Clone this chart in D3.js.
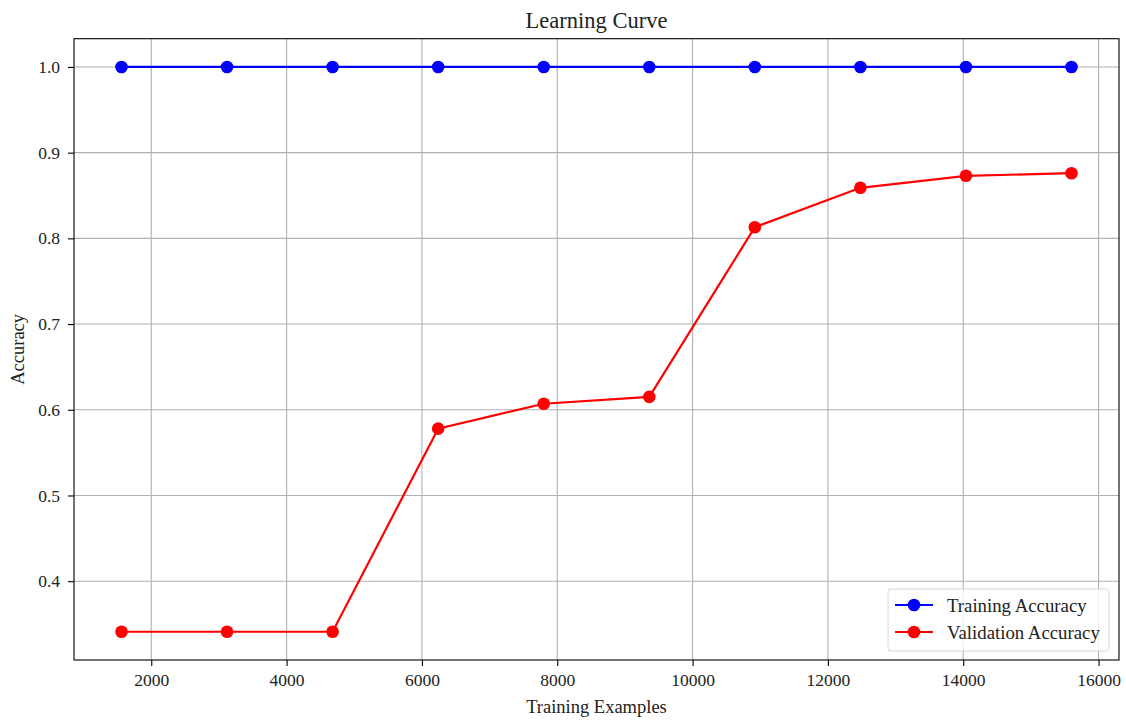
<!DOCTYPE html>
<html>
<head>
<meta charset="utf-8">
<script src="https://cdn.jsdelivr.net/npm/d3@7"></script>
<style>
  html, body { margin: 0; padding: 0; background: #fff; }
  svg { display: block; font-family: "Liberation Serif", "Times New Roman", serif; }
</style>
</head>
<body>
<svg id="chart" width="1126" height="722"></svg>
<script>
const trainingSizes = [1560, 3120, 4680, 6240, 7800, 9360, 10920, 12480, 14040, 15600];
const trainingAccuracy = [1.0, 1.0, 1.0, 1.0, 1.0, 1.0, 1.0, 1.0, 1.0, 1.0];
const validationAccuracy = [0.341, 0.341, 0.341, 0.578, 0.607, 0.615, 0.813, 0.859, 0.873, 0.876];
const xTicks = [2000, 4000, 6000, 8000, 10000, 12000, 14000, 16000];
const yTicks = [0.4, 0.5, 0.6, 0.7, 0.8, 0.9, 1.0];
const seriesNames = ["Training Accuracy", "Validation Accuracy"];
const seriesColors = ["#0000ff", "#ff0000"];

const svg = d3.select("#chart");
const mLeft = 74, mRight = 1119, mTop = 38.7, mBottom = 660;

const xr = d3.extent(trainingSizes);
const xpad = (xr[1] - xr[0]) * 0.05;
const allY = trainingAccuracy.concat(validationAccuracy);
const yr = d3.extent(allY);
const ypad = (yr[1] - yr[0]) * 0.05;

const x = d3.scaleLinear().domain([xr[0] - xpad, xr[1] + xpad]).range([mLeft, mRight]);
const y = d3.scaleLinear().domain([yr[0] - ypad, yr[1] + ypad]).range([mBottom, mTop]);

// grid
const grid = svg.append("g");
grid.selectAll("line.gx").data(xTicks).enter().append("line")
  .attr("x1", d => x(d)).attr("x2", d => x(d)).attr("y1", mTop).attr("y2", mBottom)
  .attr("stroke", "#b0b0b0").attr("stroke-width", 1.1);
grid.selectAll("line.gy").data(yTicks).enter().append("line")
  .attr("y1", d => y(d)).attr("y2", d => y(d)).attr("x1", mLeft).attr("x2", mRight)
  .attr("stroke", "#b0b0b0").attr("stroke-width", 1.1);

// axes
const xAxis = d3.axisBottom(x).tickValues(xTicks).tickFormat(d3.format("d")).tickSize(6).tickPadding(8);
const yAxis = d3.axisLeft(y).tickValues(yTicks).tickFormat(d3.format(".1f")).tickSize(6).tickPadding(8);

const gx = svg.append("g").attr("transform", `translate(0,${mBottom})`).call(xAxis);
const gy = svg.append("g").attr("transform", `translate(${mLeft},0)`).call(yAxis);
[gx, gy].forEach(g => {
  g.select(".domain").remove();
  g.selectAll(".tick line").attr("stroke", "#000").attr("stroke-width", 1.1);
  g.selectAll(".tick text").attr("fill", "#222").style("font-size", "17.5px")
    .style("font-family", "'Liberation Serif', serif");
});

// lines & markers
const series = [trainingAccuracy, validationAccuracy];
const line = d3.line().x((d, i) => x(trainingSizes[i])).y(d => y(d));
series.forEach((vals, si) => {
  svg.append("path").datum(vals).attr("d", line)
    .attr("fill", "none").attr("stroke", seriesColors[si]).attr("stroke-width", 2.2);
  svg.append("g").selectAll("circle").data(vals).enter().append("circle")
    .attr("cx", (d, i) => x(trainingSizes[i])).attr("cy", d => y(d)).attr("r", 6.3)
    .attr("fill", seriesColors[si]);
});

// frame
svg.append("rect").attr("x", mLeft).attr("y", mTop).attr("width", mRight - mLeft).attr("height", mBottom - mTop)
  .attr("fill", "none").attr("stroke", "#000").attr("stroke-width", 1.1);

// title and labels
svg.append("text").attr("x", (mLeft + mRight) / 2).attr("y", 28).attr("text-anchor", "middle")
  .style("font-size", "22.5px").attr("fill", "#222").text("Learning Curve");
svg.append("text").attr("x", (mLeft + mRight) / 2).attr("y", 713).attr("text-anchor", "middle")
  .style("font-size", "18.5px").attr("fill", "#222").text("Training Examples");
svg.append("text").attr("transform", `translate(24,${(mTop + mBottom) / 2}) rotate(-90)`)
  .attr("text-anchor", "middle").style("font-size", "18.5px").attr("fill", "#222").text("Accuracy");

// legend
const lg = svg.append("g").attr("transform", "translate(888,589)");
lg.append("rect").attr("width", 221).attr("height", 62).attr("rx", 3)
  .attr("fill", "#fff").attr("fill-opacity", 0.8).attr("stroke", "#d6d6d6").attr("stroke-width", 1);
seriesNames.forEach((name, i) => {
  const yy = 16 + i * 27;
  lg.append("line").attr("x1", 7).attr("x2", 45).attr("y1", yy).attr("y2", yy)
    .attr("stroke", seriesColors[i]).attr("stroke-width", 2.2);
  lg.append("circle").attr("cx", 26).attr("cy", yy).attr("r", 6.3).attr("fill", seriesColors[i]);
  lg.append("text").attr("x", 59).attr("y", yy).attr("dy", "0.35em")
    .style("font-size", "18.8px").attr("fill", "#222").text(name);
});
</script>
</body>
</html>
